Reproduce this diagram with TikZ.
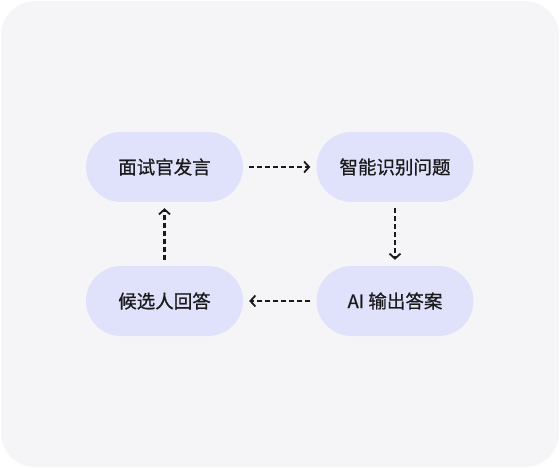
\documentclass[tikz,border=0pt]{standalone}
\usepackage{fontspec}
\newfontfamily\cjk[FakeBold=0.7]{Noto Sans CJK SC}
\usetikzlibrary{arrows.meta}
\definecolor{bgc}{HTML}{F5F5F8}
\definecolor{pillc}{HTML}{E0E2FC}
\definecolor{inkc}{HTML}{1A1A1A}
\tikzset{
  pill/.style={fill=pillc, draw=none, rounded corners=35pt, minimum width=157pt, minimum height=70pt, inner sep=0pt, text=inkc, font=\cjk\fontsize{18.5}{21}\selectfont},
  flow/.style={draw=inkc, line width=2.1pt, dash pattern=on 5pt off 3pt, -{Straight Barb[length=5pt,width=11pt,line width=1.8pt]}}
}
\begin{document}
\begin{tikzpicture}[x=1pt,y=-1pt]
\useasboundingbox (0,0) rectangle (560,468);
\fill[bgc, rounded corners=34pt] (1,1) rectangle (559,467);
\node[pill] (a) at (164.5,167) {面试官发言};
\node[pill] (b) at (395,167) {智能识别问题};
\node[pill] (c) at (395,301) {AI 输出答案};
\node[pill] (d) at (164.5,301) {候选人回答};
\draw[flow, shorten <=6pt, shorten >=6pt] (a) -- (b);
\draw[flow, shorten <=6pt, shorten >=6pt] (b) -- (c);
\draw[flow, shorten <=6pt, shorten >=6pt] (c) -- (d);
\draw[flow, shorten <=6pt, shorten >=6pt] (d) -- (a);
\end{tikzpicture}
\end{document}
